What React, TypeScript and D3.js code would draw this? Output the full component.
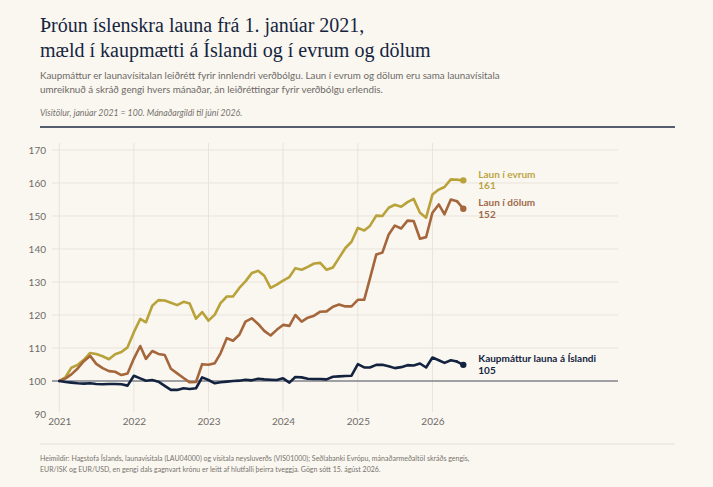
import { useEffect, useRef } from 'react';
import * as d3 from 'd3';

// Monthly index values, Jan 2021 = 100, Jan 2021 .. Jun 2026
const LAUN_EVRUM = [
  100, 101.2, 104, 104.9, 106.4, 108.5, 108.2, 107.5, 106.6, 108.1, 108.8, 110.2,
  114.8, 118.8, 117.8, 122.8, 124.5, 124.4, 123.7, 123, 124, 123.5, 118.9, 120.9,
  118.3, 120.1, 123.6, 125.6, 125.6, 128.2, 130.2, 132.7, 133.4, 131.9, 128.2, 129.2,
  130.4, 131.5, 134.2, 133.7, 134.6, 135.6, 135.8, 133.7, 134.4, 137.3, 140.3, 142.2,
  146.4, 145.6, 147, 150.1, 150, 152.5, 153.4, 152.8, 154.2, 155.2, 151, 149.5,
  156.5, 158, 158.8, 161.1, 161, 160.8,
];
const LAUN_DOLUM = [
  100, 100.8, 102, 103.8, 106, 107.6, 105.2, 103.9, 103, 102.8, 101.8, 102.3,
  106.8, 110.6, 106.7, 109.1, 108.2, 107.9, 103.7, 102.3, 100.9, 99.6, 99.7, 105.1,
  104.9, 105.4, 108.4, 113, 112.2, 114, 118, 119, 117.3, 115.2, 113.8, 115.5,
  117, 116.7, 120, 118, 119.2, 119.8, 121, 121.1, 122.5, 123.2, 122.6, 122.6,
  124.6, 124.6, 131, 138.3, 138.9, 144.4, 147.1, 146.2, 148.6, 148.5, 143.1, 143.6,
  151, 153.5, 150.5, 155, 154.5, 152.2,
];
const KAUPMATTUR = [
  100, 99.7, 99.5, 99.3, 99.2, 99.3, 99.1, 99, 99.1, 99.1, 99, 98.6,
  101.6, 100.8, 100.1, 100.3, 99.8, 98.5, 97.3, 97.3, 97.8, 97.6, 97.8, 101.1,
  100.3, 99.3, 99.6, 99.8, 100, 100.1, 100.4, 100.2, 100.7, 100.5, 100.4, 100.3,
  100.8, 99.5, 101.2, 101.1, 100.7, 100.6, 100.6, 100.5, 101.3, 101.4, 101.5, 101.6,
  105.1, 104.1, 104.1, 104.9, 104.9, 104.5, 103.9, 104.2, 104.8, 104.7, 105.3, 104.1,
  107.1, 106.3, 105.5, 106.3, 105.9, 104.9,
];

const Y_TICKS = [90, 100, 110, 120, 130, 140, 150, 160, 170];
const X_TICKS = [2021, 2022, 2023, 2024, 2025, 2026];

const SERIES = [
  { name: 'Laun í evrum', values: LAUN_EVRUM, color: '#b9a23a', text: '#bca545' },
  { name: 'Laun í dölum', values: LAUN_DOLUM, color: '#a5663c', text: '#9e6a48' },
  { name: 'Kaupmáttur launa á Íslandi', values: KAUPMATTUR, color: '#13233f', text: '#13233f' },
];

const TITLE = ['Þróun íslenskra launa frá 1. janúar 2021,', 'mæld í kaupmætti á Íslandi og í evrum og dölum'];
const SUBTITLE = [
  'Kaupmáttur er launavísitalan leiðrétt fyrir innlendri verðbólgu. Laun í evrum og dölum eru sama launavísitala',
  'umreiknuð á skráð gengi hvers mánaðar, án leiðréttingar fyrir verðbólgu erlendis.',
];
const NOTE = 'Vísitölur, janúar 2021 = 100. Mánaðargildi til júní 2026.';
const SOURCE = [
  'Heimildir: Hagstofa Íslands, launavísitala (LAU04000) og vísitala neysluverðs (VIS01000); Seðlabanki Evrópu, mánaðarmeðaltöl skráðs gengis,',
  'EUR/ISK og EUR/USD, en gengi dals gagnvart krónu er leitt af hlutfalli þeirra tveggja. Gögn sótt 15. ágúst 2026.',
];

const W = 713, H = 487;
const BG = '#faf7f1';
const SANS = 'Lato, "Open Sans", sans-serif';
const SERIF = '"Liberation Serif", "DejaVu Serif", serif';

export default function App() {
  const svgRef = useRef<SVGSVGElement>(null);

  useEffect(() => {
    if (!svgRef.current) return;
    const svg = d3.select(svgRef.current);
    svg.selectAll('*').remove();

    svg.append('rect').attr('width', W).attr('height', H).attr('fill', BG);

    // ── Header ──────────────────────────────────────────────
    TITLE.forEach((t, i) => {
      svg.append('text').attr('x', 40).attr('y', 32 + i * 25)
        .attr('font-family', SERIF).attr('font-size', 20).attr('fill', '#152540').text(t);
    });
    SUBTITLE.forEach((t, i) => {
      svg.append('text').attr('x', 40).attr('y', 79 + i * 14)
        .attr('font-family', SANS).attr('font-size', 9.8).attr('fill', '#6e6a66').text(t);
    });
    svg.append('text').attr('x', 40).attr('y', 116)
      .attr('font-family', SANS).attr('font-size', 8.7).attr('font-style', 'italic')
      .attr('fill', '#77726c').text(NOTE);
    svg.append('line').attr('x1', 40).attr('x2', 675).attr('y1', 127).attr('y2', 127)
      .attr('stroke', '#1d2b42').attr('stroke-width', 1.5);

    // ── Scales ──────────────────────────────────────────────
    const dates = LAUN_EVRUM.map((_, i) => new Date(2021, i, 1));
    const x = d3.scaleTime()
      .domain([dates[0], dates[dates.length - 1]])
      .range([59.3, 463.3]);
    const y = d3.scaleLinear().domain([90, 170]).range([414, 150]);
    const gridL = 52, gridR = 618;

    // ── Grid ────────────────────────────────────────────────
    const grid = svg.append('g');
    Y_TICKS.filter(t => t > 90).forEach(t => {
      grid.append('line').attr('x1', gridL).attr('x2', gridR).attr('y1', y(t)).attr('y2', y(t))
        .attr('stroke', '#e9e3da').attr('stroke-width', 1);
    });
    X_TICKS.forEach(yr => {
      const xx = x(new Date(yr, 0, 1));
      grid.append('line').attr('x1', xx).attr('x2', xx).attr('y1', 143).attr('y2', 412)
        .attr('stroke', '#e9e3da').attr('stroke-width', 1);
    });

    // ── Axes ────────────────────────────────────────────────
    svg.append('g').attr('transform', `translate(46,0)`)
      .call(d3.axisLeft(y).tickValues(Y_TICKS).tickSize(0).tickPadding(0))
      .call(g => g.select('.domain').remove())
      .call(g => g.selectAll('text').attr('fill', '#6f6b67').attr('font-size', 10)
        .attr('font-family', SANS));

    svg.append('g').attr('transform', `translate(0,418)`)
      .call(d3.axisBottom(x).tickValues(X_TICKS.map(yr => new Date(yr, 0, 1)))
        .tickFormat(d => d3.timeFormat('%Y')(d as Date)).tickSize(0).tickPadding(0))
      .call(g => g.select('.domain').remove())
      .call(g => g.selectAll('text').attr('fill', '#6f6b67').attr('font-size', 10)
        .attr('font-family', SANS).attr('dy', '0.71em'));

    // baseline 100
    svg.append('line').attr('x1', gridL).attr('x2', gridR).attr('y1', y(100)).attr('y2', y(100))
      .attr('stroke', '#4c5563').attr('stroke-width', 1.2);

    // ── Lines ───────────────────────────────────────────────
    const line = d3.line<number>()
      .x((_, i) => x(dates[i]))
      .y(d => y(d))
      .curve(d3.curveLinear);

    SERIES.forEach(s => {
      svg.append('path').datum(s.values.slice(0, -1))
        .attr('fill', 'none').attr('stroke', s.color).attr('stroke-width', 2.6)
        .attr('stroke-linejoin', 'round').attr('stroke-linecap', 'round')
        .attr('d', line);
      const last = s.values[s.values.length - 1];
      const prevI = s.values.length - 2;
      const lx = x(dates[dates.length - 1]), ly = y(last);
      svg.append('line').attr('x1', x(dates[prevI])).attr('y1', y(s.values[prevI]))
        .attr('x2', lx).attr('y2', ly)
        .attr('stroke', s.color).attr('stroke-width', 2.6).attr('stroke-linecap', 'round');
      svg.append('circle').attr('cx', lx).attr('cy', ly).attr('r', 3.2).attr('fill', s.color);

      const label = svg.append('text').attr('font-family', SANS).attr('font-weight', 700)
        .attr('font-size', 10).attr('fill', s.text);
      label.append('tspan').attr('x', lx + 15).attr('y', ly - 2.5).text(s.name);
      label.append('tspan').attr('x', lx + 15).attr('y', ly + 9).text(Math.round(last));
    });

    // ── Footer ──────────────────────────────────────────────
    svg.append('line').attr('x1', 40).attr('x2', 675).attr('y1', 444).attr('y2', 444)
      .attr('stroke', '#e6e0d4').attr('stroke-width', 1);
    SOURCE.forEach((t, i) => {
      svg.append('text').attr('x', 40).attr('y', 461 + i * 11)
        .attr('font-family', SANS).attr('font-size', 7).attr('fill', '#77726c').text(t);
    });
  }, []);

  return (
    <div style={{ position: 'fixed', left: 0, top: 0, width: W, height: H, background: BG }}>
      <svg ref={svgRef} width={W} height={H} style={{ display: 'block' }} />
    </div>
  );
}
